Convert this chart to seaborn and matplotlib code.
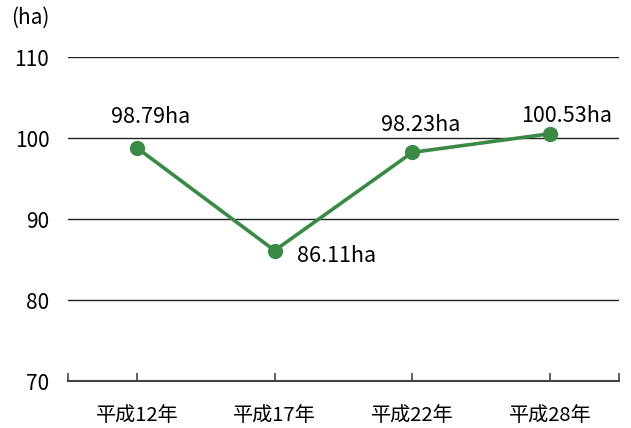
import pandas as pd
import seaborn as sns
import matplotlib.pyplot as plt

years = ["平成12年", "平成17年", "平成22年", "平成28年"]
area = [98.79, 86.11, 98.23, 100.53]
labels = ["98.79ha", "86.11ha", "98.23ha", "100.53ha"]


def main():
  sns.set_style("white")
  plt.rcParams['font.family'] = ['Noto Sans CJK JP', 'DejaVu Sans']

  df = pd.DataFrame({"year": years, "area": area, "pos": range(len(years))})
  green = "#3a8a45"

  fig = plt.figure(figsize=(6.31, 4.28), dpi=100)
  ax = fig.add_axes([0.1078, 0.1098, 0.8732, 0.757])

  for v in [80, 90, 100, 110]:
    ax.axhline(v, color="#222222", lw=1.0, zorder=1)

  sns.lineplot(x="pos", y="area", data=df, ax=ax, color=green, lw=2.6,
               marker="o", markersize=11, markeredgewidth=0, zorder=3)

  # label offsets in points: (dx, dy, ha, va)
  offsets = [(10, 14, "center", "bottom"), (16, -4, "left", "center"),
             (6, 12, "center", "bottom"), (12, 5, "center", "bottom")]
  for i, (lab, off) in enumerate(zip(labels, offsets)):
    dx, dy, ha, va = off
    ax.annotate(lab, (i, area[i]), xytext=(dx, dy), textcoords="offset points",
                ha=ha, va=va, fontsize=15.5, color="black")

  ax.set_xlim(-0.5, 3.5)
  ax.set_ylim(70, 110)
  ax.set_yticks([70, 80, 90, 100, 110])
  ax.set_xticks([-0.5, 0, 1, 2, 3, 3.5])
  ax.set_xticklabels([""] + years + [""])
  ax.tick_params(axis="x", bottom=True, direction="in", length=6, width=1.2,
                 color="#444444", labelsize=14.5, labelcolor="black", pad=17)
  ax.tick_params(axis="y", left=False, labelsize=15, labelcolor="black", pad=10)
  ax.set_xlabel("")
  ax.set_ylabel("")
  for s in ["top", "right", "left"]:
    ax.spines[s].set_visible(False)
  ax.spines["bottom"].set_color("#444444")
  ax.spines["bottom"].set_linewidth(1.5)

  fig.text(0.018, 0.958, "(ha)", fontsize=15, ha="left", va="center", color="black")

  plt.savefig("out.png", dpi=100)


if __name__ == '__main__':
  main()
